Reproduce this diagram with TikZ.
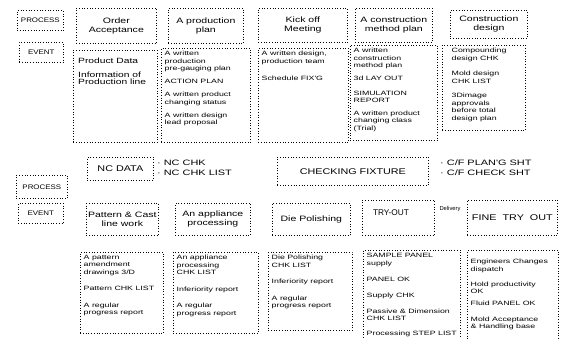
\documentclass[tikz,border=0pt]{standalone}
\usepackage{fontspec}
\setmainfont{Liberation Sans}
\newfontfamily\wdoc{Liberation Sans}[FakeStretch=1.42]
\newfontfamily\wttl{Liberation Sans}[FakeStretch=1.35]
\newfontfamily\wbig{Liberation Sans}[FakeStretch=1.3]
\newfontfamily\wside{Liberation Sans}[FakeStretch=1.4]
\newfontfamily\wlab{Liberation Sans}[FakeStretch=1.2]
\tikzset{
  dbox/.style={draw, dotted, line width=0.7pt, inner sep=0pt, anchor=north west},
  ttl/.style={font=\wttl\fontsize{7.8}{8.8}\selectfont, align=center},
  lab/.style={font=\wlab\fontsize{6.6}{8}\selectfont, align=center},
  big/.style={font=\wbig\fontsize{8.3}{9.5}\selectfont, align=center},
  doc/.style={font=\wdoc\fontsize{6.2}{7.5}\selectfont, align=left, anchor=north west, inner sep=0pt},
  side/.style={font=\wside\fontsize{7.8}{9.5}\selectfont, align=left, anchor=north west, inner sep=0pt},
}
\newcommand{\tbx}[7][ttl]{\node[dbox, #1, minimum width=#5-#3, minimum height=#6-#4] (#2) at (#3,-#4) {#7};}
\newcommand{\dbx}[7][-3pt]{\node[dbox, minimum width=#5-#3, minimum height=#6-#4] (#2) at (#3,-#4) {};
  \node[doc] (#2t) at ([shift={(3.5pt,#1)}]#2.north west) {#7};}
\begin{document}
\begin{tikzpicture}[x=1pt,y=1pt]
\useasboundingbox (0,0) rectangle (561,-338);
\fill[white] (0,0) rectangle (561,-338);
\clip (0,0) rectangle (561,-338);

% left labels
\tbx[lab]{proc1}{17}{10}{63}{30}{PROCESS}
\tbx[lab]{evt1}{19}{42}{63}{62}{EVENT}
\tbx[lab]{proc2}{16}{175}{67}{198}{PROCESS}
\tbx[lab]{evt2}{18}{203}{63}{223}{EVENT}

% top row
\tbx[ttl]{order}{76}{8}{156}{43}{Order\\Acceptance}
\tbx[ttl]{prodplan}{168}{8}{243}{43}{A production\\plan}
\tbx[ttl]{kick}{258}{8}{347}{42}{Kick off\\Meeting}
\tbx[ttl]{constr}{355}{8}{432}{42}{A construction\\method plan}
\tbx[ttl]{design}{450}{10}{527}{38}{Construction\\design}

% second row documents
\node[dbox, minimum width=84, minimum height=92] (pdata) at (73,-50) {};
\node[doc, font=\wttl\fontsize{7.6}{7.6}\selectfont] (pdatat) at ([shift={(5pt,-8pt)}]pdata.north west)
  {Product Data\\[6pt]Information of\\Production line};
\dbx{ppdoc}{161}{48}{250}{142}{A written\\production\\pre-gauging plan\\[5.5pt]ACTION PLAN\\[5.5pt]A written product\\changing status\\[5.5pt]A written design\\lead proposal}
\dbx{kdoc}{258}{48}{348}{142}{A written design,\\production team\\[10pt]Schedule FIX'G}
\dbx{cdoc}{350}{45}{437}{140}{A written\\construction\\method plan\\[5.5pt]3d LAY OUT\\[7pt]SIMULATION\\REPORT\\[5pt]A written product\\changing class\\(Trial)}
\dbx{ddoc}{442}{45}{525}{130}{\hspace{6pt}Compounding\\\hspace{6pt}design CHK\\[8pt]\hspace{6pt}Mold design\\\hspace{6pt}CHK LIST\\[7pt]\hspace{6pt}3Dimage\\\hspace{6pt}approvals\\\hspace{6pt}before total\\\hspace{6pt}design plan}

% middle row
\tbx[big]{nc}{87}{157}{153}{180}{NC DATA}
\node[side] (nclist) at (157,-160) {· NC CHK\\· NC CHK LIST};
\tbx[big]{cf}{277}{157}{428}{185}{CHECKING FIXTURE}
\node[side] (cflist) at (440,-160) {· C/F PLAN'G SHT\\· C/F CHECK SHT};

% bottom row titles
\tbx[ttl]{pattern}{86}{203}{158}{235}{Pattern \& Cast\\line work}
\tbx[ttl]{appl}{175}{203}{250}{235}{An appliance\\processing}
\tbx[ttl]{die}{272}{203}{350}{235}{Die Polishing}
\node[dbox, minimum width=72, minimum height=35] (try) at (362,-200) {};
\node[font=\fontsize{8.3}{9}\selectfont, inner sep=0pt] (tryt) at (391,-213) {TRY-OUT};
\node[font=\fontsize{5.8}{7}\selectfont, inner sep=0pt] (deliv) at (450,-209) {Delivery};
\tbx[big]{fine}{467}{200}{557}{235}{FINE\ \ TRY\ \ OUT}

% bottom row documents
\dbx{patdoc}{80}{252}{163}{333}{A pattern\\amendment\\drawings 3/D\\[9pt]Pattern CHK LIST\\[9pt]A regular\\progress report}
\dbx{appdoc}{173}{252}{258}{333}{An appliance\\processing\\CHK LIST\\[9pt]Inferiority report\\[9pt]A regular\\progress report}
\dbx{diedoc}{268}{252}{352}{330}{Die Polishing\\CHK LIST\\[9pt]Inferiority report\\[9pt]A regular\\progress report}
\dbx{trydoc}{363}{250}{460}{350}{SAMPLE PANEL\\supply\\[8.5pt]PANEL OK\\[8.5pt]Supply CHK\\[8.5pt]Passive \& Dimension\\CHK LIST\\[7.5pt]Processing STEP LIST}
\dbx[-9pt]{finedoc}{467}{250}{558}{350}{Engineers Changes\\dispatch\\[7.5pt]Hold productivity\\OK\\[4pt]Fluid PANEL OK\\[8.5pt]Mold Acceptance\\\& Handling base}
\end{tikzpicture}
\end{document}
